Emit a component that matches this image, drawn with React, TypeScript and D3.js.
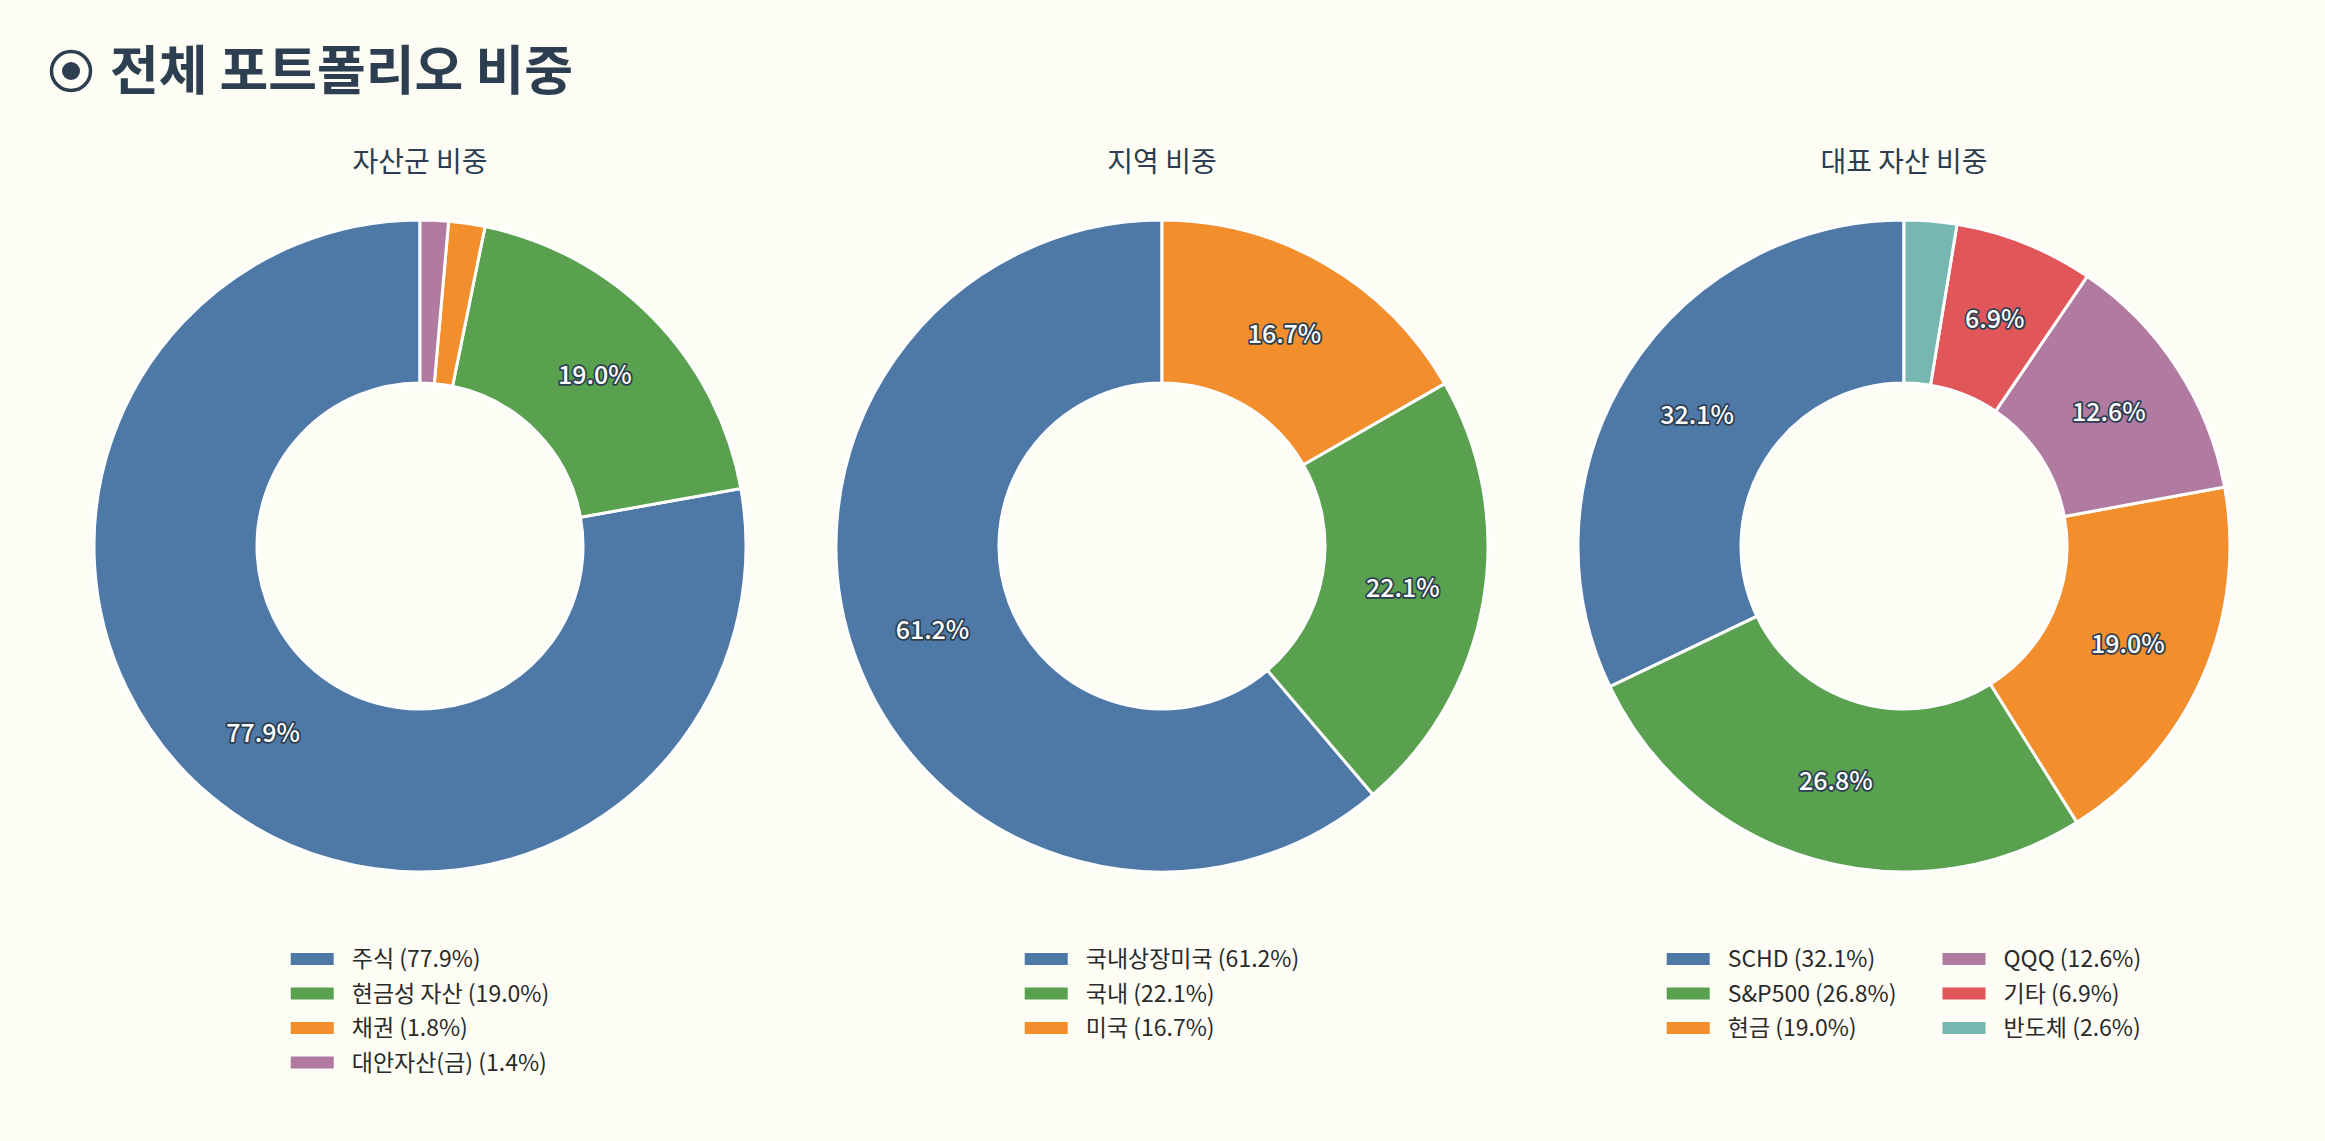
import { useEffect, useRef } from 'react';
import * as d3 from 'd3';

// chart data
const assetLabels = ['주식', '현금성 자산', '채권', '대안자산(금)'];
const assetValues = [77.9, 19.0, 1.8, 1.4];

const regionLabels = ['국내상장미국', '국내', '미국'];
const regionValues = [61.2, 22.1, 16.7];

const holdingLabels = ['SCHD', 'S&P500', '현금', 'QQQ', '기타', '반도체'];
const holdingValues = [32.1, 26.8, 19.0, 12.6, 6.9, 2.6];

const palette = ['#4e79a7', '#59a14f', '#f28e2b', '#b07aa1', '#e15759', '#76b7b2'];

const charts = [
  { title: '자산군 비중', labels: assetLabels, values: assetValues, ncol: 1 },
  { title: '지역 비중', labels: regionLabels, values: regionValues, ncol: 1 },
  { title: '대표 자산 비중', labels: holdingLabels, values: holdingValues, ncol: 2 },
];

const W = 2325;
const H = 1141;
const FONT = '"Noto Sans CJK KR", "Noto Sans", sans-serif';
const INK = '#2c3e50';

const App: React.FC = () => {
  const ref = useRef<SVGSVGElement>(null);

  useEffect(() => {
    const svg = d3.select(ref.current);
    svg.selectAll('*').remove();

    svg.append('rect').attr('width', W).attr('height', H).attr('fill', '#fdfdf5');

    // title
    const title = svg.append('g');
    title.append('circle').attr('cx', 71).attr('cy', 71).attr('r', 19.5)
      .attr('fill', 'none').attr('stroke', INK).attr('stroke-width', 3.5);
    title.append('circle').attr('cx', 71).attr('cy', 71).attr('r', 9).attr('fill', INK);
    title.append('text')
      .attr('x', 110).attr('y', 90)
      .style('font-family', FONT).style('font-size', '53px').style('font-weight', 700)
      .attr('fill', INK)
      .text('전체 포트폴리오 비중');

    const centers = d3.scalePoint<number>().domain([0, 1, 2]).range([420, 1904]);
    const cy = 546;
    const radius = 326;

    const arc = d3.arc<d3.PieArcDatum<number>>()
      .innerRadius(radius * 0.5)
      .outerRadius(radius);
    const labelArc = d3.arc<d3.PieArcDatum<number>>()
      .innerRadius(radius * 0.75)
      .outerRadius(radius * 0.75);

    const pie = d3.pie<number>()
      .value(d => d)
      .sort(null)
      .startAngle(0)
      .endAngle(-2 * Math.PI);

    charts.forEach((c, ci) => {
      const cx = centers(ci) as number;
      const g = svg.append('g');

      g.append('text')
        .attr('x', cx).attr('y', 172)
        .attr('text-anchor', 'middle')
        .style('font-family', FONT).style('font-size', '28px').style('font-weight', 400)
        .attr('fill', INK)
        .text(c.title);

      const pg = g.append('g').attr('transform', `translate(${cx},${cy})`);
      const arcs = pie(c.values);

      pg.selectAll('path')
        .data(arcs)
        .enter()
        .append('path')
        .attr('d', arc)
        .attr('fill', (_d, i) => palette[i])
        .attr('stroke', '#ffffff')
        .attr('stroke-width', 3);

      pg.selectAll('text')
        .data(arcs.filter(d => d.data >= 5))
        .enter()
        .append('text')
        .attr('transform', d => `translate(${labelArc.centroid(d)})`)
        .attr('dy', '0.35em')
        .attr('text-anchor', 'middle')
        .style('font-family', FONT).style('font-size', '25px').style('font-weight', 500)
        .attr('fill', '#ffffff')
        .attr('stroke', INK)
        .attr('stroke-width', 3.5)
        .attr('paint-order', 'stroke')
        .attr('stroke-linejoin', 'round')
        .text(d => `${d.data.toFixed(1)}%`);

      // legend
      const lg = g.append('g');
      const rows = Math.ceil(c.labels.length / c.ncol);
      const sw = 43, pad = 18, colGap = 46, rowH = 34.5, top = 959;
      const items = lg.selectAll('g')
        .data(c.labels)
        .enter()
        .append('g');
      const texts = items.append('text')
        .attr('x', sw + pad)
        .attr('dy', '0.35em')
        .style('font-family', FONT).style('font-size', '23px')
        .attr('fill', '#2a2a2a')
        .text((d, i) => `${d} (${c.values[i].toFixed(1)}%)`);
      items.append('rect')
        .attr('y', -6).attr('width', sw).attr('height', 12)
        .attr('fill', (_d, i) => palette[i]);

      const widths = texts.nodes().map(n => (n as SVGTextElement).getComputedTextLength());
      const colW: number[] = [];
      for (let col = 0; col < c.ncol; col++) {
        const w = d3.max(widths.slice(col * rows, (col + 1) * rows)) ?? 0;
        colW.push(sw + pad + w);
      }
      const colX: number[] = [0];
      for (let col = 1; col < c.ncol; col++) colX.push(colX[col - 1] + colW[col - 1] + colGap);
      const total = colX[c.ncol - 1] + colW[c.ncol - 1];

      items.attr('transform', (_d, i) => {
        const col = Math.floor(i / rows);
        const row = i % rows;
        return `translate(${cx - total / 2 + colX[col]},${top + row * rowH})`;
      });
    });
  }, []);

  return (
    <svg
      ref={ref}
      width={W}
      height={H}
      style={{ position: 'absolute', left: 0, top: 0, display: 'block' }}
    />
  );
};

export default App;
